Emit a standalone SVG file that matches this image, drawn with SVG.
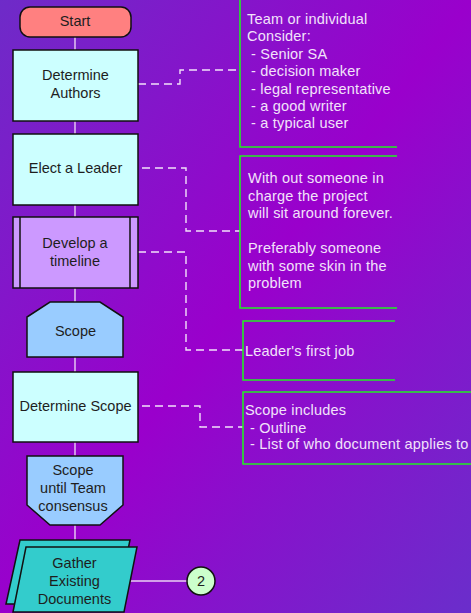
<svg xmlns="http://www.w3.org/2000/svg" width="471" height="613" viewBox="0 0 471 613">
<defs>
<linearGradient id="bg" x1="0" y1="0" x2="1" y2="1">
<stop offset="0" stop-color="#6E2BC8"/>
<stop offset="0.5" stop-color="#9A00CC"/>
<stop offset="1" stop-color="#6A2ECB"/>
</linearGradient>
<style>
.nt{font-family:"Liberation Sans",Arial,sans-serif;font-size:14.5px;fill:#1e1e1e;text-anchor:middle}
.at{font-family:"Liberation Sans",Arial,sans-serif;font-size:14.5px;letter-spacing:0.2px;fill:#F2E2FA}
.box{stroke:#111;stroke-width:1.5}
.solid{stroke:#EAD0F4;stroke-width:1.4;fill:none}
.dash{stroke:#F2E2FA;stroke-width:1.4;fill:none;stroke-dasharray:8 5}
.ann{stroke:#22EE22;stroke-width:1.6;fill:none}
</style>
</defs>
<rect width="471" height="613" fill="url(#bg)"/>

<g id="connectors">
<path class="solid" d="M75,37V50 M75,121V134 M75,205V217 M75,288V302 M75,357V372 M75,442V456 M75,525V547 M130,581H187"/>
<path class="dash" d="M138,84H180V70H240"/>
<path class="dash" d="M142,168H186V231H240"/>
<path class="dash" d="M138,252H186V350H243"/>
<path class="dash" d="M142,406H200V427H243"/>
</g>

<g id="start">
<rect class="box" x="20" y="7" width="111" height="30" rx="10" fill="#FF8080"/>
<text class="nt" x="75" y="26">Start</text>
</g>

<g id="determine-authors">
<rect class="box" x="13" y="50" width="125" height="71" fill="#CCFFFF"/>
<text class="nt" x="75.5" y="80">Determine</text>
<text class="nt" x="75.5" y="98">Authors</text>
</g>

<g id="elect-leader">
<rect class="box" x="13" y="134" width="125" height="71" fill="#CCFFFF"/>
<text class="nt" x="75.5" y="173">Elect a Leader</text>
</g>

<g id="develop-timeline">
<rect class="box" x="13" y="217" width="125" height="71" fill="#CC99FF"/>
<path class="box" d="M20,217V288 M130,217V288"/>
<text class="nt" x="75" y="248">Develop a</text>
<text class="nt" x="75" y="266">timeline</text>
</g>

<g id="scope">
<polygon class="box" points="50,302 100,302 123,317 123,357 27,357 27,317" fill="#99CCFF"/>
<text class="nt" x="75.5" y="336">Scope</text>
</g>

<g id="determine-scope">
<rect class="box" x="13" y="372" width="125" height="70" fill="#CCFFFF"/>
<text class="nt" x="75.5" y="411">Determine Scope</text>
</g>

<g id="scope-until">
<polygon class="box" points="27,456 123,456 123,505 100,525 50,525 27,505" fill="#99CCFF"/>
<text class="nt" x="73" y="475">Scope</text>
<text class="nt" x="73" y="493">until Team</text>
<text class="nt" x="73" y="511">consensus</text>
</g>

<g id="gather-documents">
<polygon class="box" points="20,540 130,540 117,604 6,604" fill="#33CCCC"/>
<polygon class="box" points="26,547 137,547 124,612 13,612" fill="#33CCCC"/>
<text class="nt" x="74.5" y="568">Gather</text>
<text class="nt" x="74.5" y="586">Existing</text>
<text class="nt" x="74.5" y="604">Documents</text>
</g>

<g id="connector-2">
<circle class="box" cx="201" cy="581" r="14" fill="#CCFFCC"/>
<text class="nt" x="201" y="586">2</text>
</g>

<g id="note-authors">
<path class="ann" d="M240,0V147H397"/>
<text class="at" x="247" y="24">Team or individual</text>
<text class="at" x="247" y="41.4">Consider:</text>
<text class="at" x="251" y="58.8">- Senior SA</text>
<text class="at" x="251" y="76.2">- decision maker</text>
<text class="at" x="251" y="93.6">- legal representative</text>
<text class="at" x="251" y="111">- a good writer</text>
<text class="at" x="251" y="128.4">- a typical user</text>
</g>

<g id="note-leader">
<path class="ann" d="M397,156H240V308H397"/>
<text class="at" x="248" y="183">With out someone in</text>
<text class="at" x="248" y="200.5">charge the project</text>
<text class="at" x="248" y="218">will sit around forever.</text>
<text class="at" x="248" y="253">Preferably someone</text>
<text class="at" x="248" y="270.5">with some skin in the</text>
<text class="at" x="248" y="288">problem</text>
</g>

<g id="note-first-job">
<path class="ann" d="M395,321H243V380H395"/>
<text class="at" x="245" y="356">Leader's first job</text>
</g>

<g id="note-scope">
<path class="ann" d="M471,392H243V464H471"/>
<text class="at" x="245" y="415">Scope includes</text>
<text class="at" x="250" y="433">- Outline</text>
<text class="at" x="250" y="448.5">- List of who document applies to</text>
</g>
</svg>
